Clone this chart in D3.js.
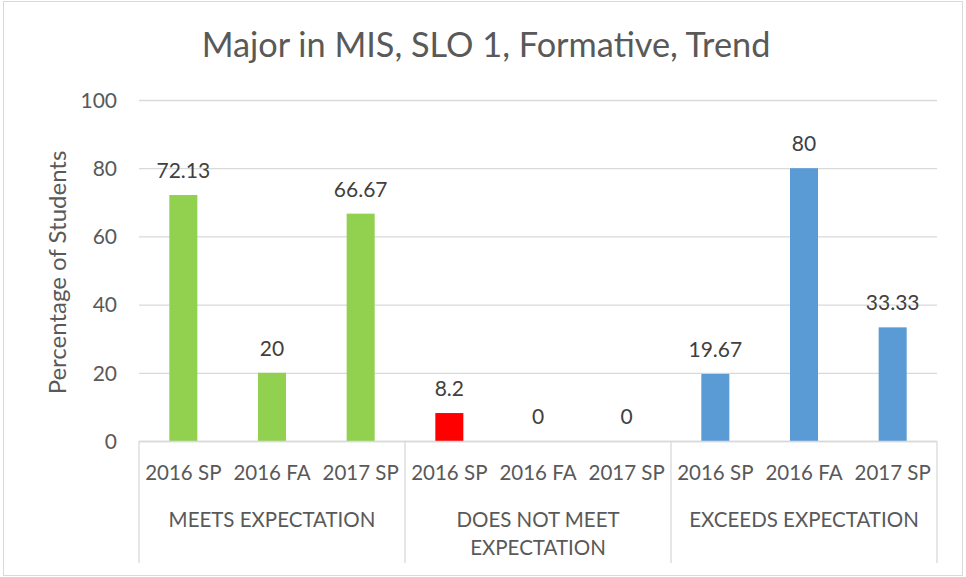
<!DOCTYPE html>
<html>
<head>
<meta charset="utf-8">
<script src="https://cdn.jsdelivr.net/npm/d3@7"></script>
<style>
  html, body { margin: 0; padding: 0; background: #fff; }
  svg { display: block; font-family: Lato, "Open Sans", sans-serif; }
</style>
</head>
<body>
<svg id="chart" width="966" height="577"></svg>
<script>
// Chart data
const groups = ["MEETS EXPECTATION", "DOES NOT MEET EXPECTATION", "EXCEEDS EXPECTATION"];
const groupLines = [["MEETS EXPECTATION"], ["DOES NOT MEET", "EXPECTATION"], ["EXCEEDS EXPECTATION"]];
const terms = ["2016 SP", "2016 FA", "2017 SP"];
const meetsValues = [72.13, 20, 66.67];
const doesNotMeetValues = [8.2, 0, 0];
const exceedsValues = [19.67, 80, 33.33];
const groupColors = ["#92D050", "#FF0000", "#5B9BD5"];
const yTicks = [0, 20, 40, 60, 80, 100];
const titleText = "Major in MIS, SLO 1, Formative, Trend";
const yTitle = "Percentage of Students";

const seriesValues = [meetsValues, doesNotMeetValues, exceedsValues];
const rows = [];
groups.forEach((g, gi) => {
  terms.forEach((t, ti) => {
    rows.push({ group: g, gi, term: t, key: g + "|" + t, value: seriesValues[gi][ti] });
  });
});

const svg = d3.select("#chart");
const plot = { left: 139, right: 937, top: 100, bottom: 441 };

// Outer chart frame
svg.append("rect")
  .attr("x", 3.5).attr("y", 1.5).attr("width", 959).attr("height", 574)
  .attr("fill", "#fff").attr("stroke", "#D9D9D9").attr("stroke-width", 1);

const y = d3.scaleLinear().domain([0, 100]).range([plot.bottom, plot.top]);
const xGroup = d3.scaleBand().domain(groups).range([plot.left, plot.right]).padding(0);
const x = d3.scaleBand().domain(rows.map(d => d.key))
  .range([plot.left, plot.right]).paddingInner(0.684).paddingOuter(0.342);

// Title
svg.append("text")
  .attr("x", 486).attr("y", 57)
  .attr("text-anchor", "middle")
  .attr("fill", "#595959")
  .style("font-size", "34.3px")
  .text(titleText);

// Horizontal gridlines and value axis labels
const yAxis = d3.axisLeft(y).tickValues(yTicks).tickSize(-(plot.right - plot.left)).tickPadding(22);
const yg = svg.append("g").attr("transform", `translate(${plot.left},0)`).call(yAxis);
yg.select(".domain").remove();
yg.selectAll(".tick line").attr("stroke", "#D9D9D9").attr("stroke-width", 1.3);
yg.selectAll(".tick text").attr("fill", "#595959").style("font-size", "21px")
  .style("font-family", "Lato, 'Open Sans', sans-serif").attr("dy", "0.35em");

// Value axis title
svg.append("text")
  .attr("transform", `translate(66,${(plot.top + plot.bottom) / 2 + 2}) rotate(-90)`)
  .attr("text-anchor", "middle")
  .attr("fill", "#595959")
  .style("font-size", "24px")
  .text(yTitle);

// Bars
svg.append("g").selectAll("rect").data(rows).join("rect")
  .attr("x", d => x(d.key))
  .attr("width", x.bandwidth())
  .attr("y", d => y(d.value))
  .attr("height", d => y(0) - y(d.value))
  .attr("fill", d => groupColors[d.gi]);

// Data labels
svg.append("g").selectAll("text").data(rows).join("text")
  .attr("x", d => x(d.key) + x.bandwidth() / 2)
  .attr("y", d => y(d.value) - 17)
  .attr("text-anchor", "middle")
  .attr("fill", "#404040")
  .style("font-size", "21px")
  .text(d => d3.format("~g")(d.value));

// Category axis: baseline, group separators, term and group labels
const axisG = svg.append("g");
axisG.append("line")
  .attr("x1", plot.left).attr("x2", plot.right)
  .attr("y1", plot.bottom + 0.5).attr("y2", plot.bottom + 0.5)
  .attr("stroke", "#D9D9D9").attr("stroke-width", 1.3);

const seps = groups.map(g => xGroup(g)).concat([xGroup(groups[groups.length - 1]) + xGroup.bandwidth()]);
axisG.selectAll("line.sep").data(seps).join("line")
  .attr("class", "sep")
  .attr("x1", d => d).attr("x2", d => d)
  .attr("y1", plot.bottom).attr("y2", 563)
  .attr("stroke", "#D9D9D9").attr("stroke-width", 1.3);

axisG.selectAll("text.term").data(rows).join("text")
  .attr("class", "term")
  .attr("x", d => x(d.key) + x.bandwidth() / 2)
  .attr("y", 480)
  .attr("text-anchor", "middle")
  .attr("fill", "#595959")
  .style("font-size", "20.5px")
  .text(d => d.term);

groups.forEach((g, gi) => {
  const t = axisG.append("text")
    .attr("x", xGroup(g) + xGroup.bandwidth() / 2)
    .attr("y", 527)
    .attr("text-anchor", "middle")
    .attr("fill", "#595959")
    .style("font-size", "20.5px");
  groupLines[gi].forEach((line, li) => {
    t.append("tspan")
      .attr("x", xGroup(g) + xGroup.bandwidth() / 2)
      .attr("dy", li === 0 ? 0 : 28)
      .text(line);
  });
});
</script>
</body>
</html>
